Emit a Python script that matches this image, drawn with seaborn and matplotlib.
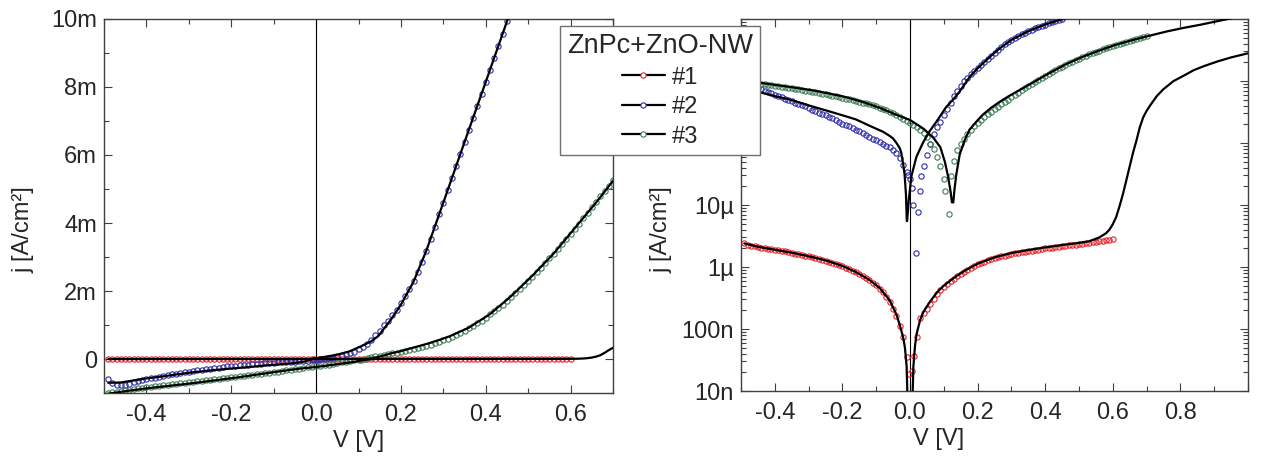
import numpy as np
import matplotlib
matplotlib.use('Agg')
import matplotlib.pyplot as plt
from matplotlib.lines import Line2D
from matplotlib.ticker import MultipleLocator, FuncFormatter, LogLocator
import seaborn as sns

# voltage sweep grid (V)
v_neg = [-0.49, -0.48, -0.47, -0.46, -0.45, -0.44, -0.43, -0.42, -0.41, -0.40,
         -0.39, -0.38, -0.37, -0.36, -0.35, -0.34, -0.33, -0.32, -0.31, -0.30,
         -0.29, -0.28, -0.27, -0.26, -0.25, -0.24, -0.23, -0.22, -0.21, -0.20,
         -0.19, -0.18, -0.17, -0.16, -0.15, -0.14, -0.13, -0.12, -0.11, -0.10,
         -0.09, -0.08, -0.07, -0.06, -0.05, -0.04, -0.03, -0.02, -0.01]
v_pos = [0.01, 0.02, 0.03, 0.04, 0.05, 0.06, 0.07, 0.08, 0.09, 0.10,
         0.11, 0.12, 0.13, 0.14, 0.15, 0.16, 0.17, 0.18, 0.19, 0.20,
         0.21, 0.22, 0.23, 0.24, 0.25, 0.26, 0.27, 0.28, 0.29, 0.30,
         0.31, 0.32, 0.33, 0.34, 0.35, 0.36, 0.37, 0.38, 0.39, 0.40,
         0.41, 0.42, 0.43, 0.44, 0.45, 0.46, 0.47, 0.48, 0.49, 0.50,
         0.51, 0.52, 0.53, 0.54, 0.55, 0.56, 0.57, 0.58, 0.59, 0.60,
         0.61, 0.62, 0.63, 0.64, 0.65, 0.66, 0.67, 0.68, 0.69, 0.70]

# sample #1 measured (uA/cm2)
v1 = v_neg + [-0.004, 0.007, 0.011] + v_pos[1:60]
j1_uA = [-2.40, -2.30, -2.22, -2.15, -2.09, -2.04, -2.00, -1.96, -1.93, -1.90,
         -1.86, -1.82, -1.78, -1.74, -1.70, -1.65, -1.61, -1.56, -1.52, -1.48,
         -1.44, -1.40, -1.36, -1.32, -1.27, -1.22, -1.17, -1.12, -1.07, -1.02,
         -0.97, -0.92, -0.87, -0.82, -0.77, -0.71, -0.66, -0.61, -0.56, -0.51,
         -0.45, -0.39, -0.33, -0.27, -0.21, -0.16, -0.113, -0.074, -0.035,
         -0.019, 0.021, 0.037,
         0.075, 0.15, 0.18, 0.21, 0.25, 0.31, 0.37, 0.42, 0.47,
         0.53, 0.59, 0.65, 0.71, 0.77, 0.83, 0.89, 0.96, 1.03, 1.10,
         1.16, 1.22, 1.28, 1.34, 1.39, 1.44, 1.49, 1.53, 1.58, 1.62,
         1.66, 1.70, 1.73, 1.77, 1.80, 1.84, 1.87, 1.91, 1.95, 1.99,
         2.02, 2.06, 2.09, 2.13, 2.16, 2.20, 2.23, 2.26, 2.30, 2.34,
         2.38, 2.42, 2.46, 2.50, 2.54, 2.59, 2.64, 2.69, 2.74, 2.80]

# sample #2 measured (mA/cm2)
v2 = v_neg + [-0.005, 0.0, 0.005, 0.01, 0.017, 0.024, 0.029, 0.034, 0.041, 0.05] + v_pos[5:45]
j2_mA = [-0.60, -0.70, -0.75, -0.77, -0.76, -0.73, -0.69, -0.66, -0.63, -0.60,
         -0.57, -0.545, -0.52, -0.495, -0.47, -0.45, -0.43, -0.41, -0.39, -0.37,
         -0.34, -0.325, -0.31, -0.295, -0.28, -0.265, -0.25, -0.235, -0.22, -0.205,
         -0.195, -0.185, -0.175, -0.165, -0.155, -0.145, -0.135, -0.127, -0.118, -0.11,
         -0.102, -0.096, -0.09, -0.085, -0.077, -0.069, -0.057, -0.045, -0.034,
         -0.030, -0.026, -0.019, -0.010, -0.0017, 0.0076, 0.017, 0.029, 0.042, 0.063,
         0.097, 0.14, 0.178, 0.22, 0.28,
         0.36, 0.45, 0.57, 0.70, 0.83, 1.00, 1.13, 1.28, 1.45, 1.64,
         1.84, 2.05, 2.28, 2.55, 2.86, 3.19, 3.54, 3.89, 4.25, 4.60,
         4.96, 5.31, 5.67, 6.02, 6.38, 6.73, 7.09, 7.44, 7.80, 8.15,
         8.51, 8.86, 9.22, 9.57, 9.93]

# sample #3 measured (mA/cm2)
v3 = v_neg + [0.0] + v_pos[:10] + [0.105, 0.115, 0.122, 0.13] + v_pos[13:70]
j3_mA = [-1.00, -0.98, -0.96, -0.94, -0.92, -0.90, -0.88, -0.865, -0.85, -0.835,
         -0.82, -0.805, -0.79, -0.775, -0.76, -0.745, -0.73, -0.715, -0.70, -0.685,
         -0.67, -0.655, -0.64, -0.625, -0.61, -0.595, -0.58, -0.565, -0.55, -0.535,
         -0.52, -0.505, -0.49, -0.48, -0.465, -0.45, -0.435, -0.42, -0.405, -0.39,
         -0.37, -0.35, -0.335, -0.32, -0.30, -0.285, -0.265, -0.245, -0.23, -0.21,
         -0.195, -0.18, -0.165, -0.145, -0.125, -0.098, -0.080, -0.059, -0.042, -0.026,
         -0.017, -0.0072, 0.029, 0.052,
         0.078, 0.097, 0.117, 0.14, 0.163, 0.185, 0.21,
         0.232, 0.26, 0.29, 0.32, 0.35, 0.385, 0.42, 0.46, 0.50, 0.55,
         0.60, 0.65, 0.71, 0.77, 0.83, 0.90, 0.97, 1.05, 1.13, 1.22,
         1.31, 1.40, 1.50, 1.60, 1.71, 1.82, 1.93, 2.05, 2.17, 2.29,
         2.42, 2.55, 2.68, 2.82, 2.96, 3.10, 3.24, 3.38, 3.53, 3.68,
         3.83, 3.98, 4.14, 4.30, 4.46, 4.62, 4.78, 4.94, 5.10, 5.26]

# fits
f1_v = [-0.49, -0.45, -0.40, -0.35, -0.30, -0.25, -0.20, -0.16, -0.12, -0.09,
        -0.06, -0.04, -0.03, -0.02, -0.015, -0.010, -0.006, 0.006, 0.010, 0.015,
        0.02, 0.03, 0.04, 0.06, 0.08, 0.10, 0.13, 0.16, 0.20, 0.25,
        0.30, 0.35, 0.40, 0.45, 0.50, 0.53, 0.56, 0.58, 0.59, 0.60,
        0.61, 0.62, 0.63, 0.64, 0.65, 0.66, 0.67, 0.68, 0.69, 0.70,
        0.71, 0.73, 0.75, 0.78, 0.81, 0.84, 0.87, 0.91, 0.95, 1.00]
f1_uA = [-2.40, -2.12, -1.90, -1.70, -1.49, -1.28, -1.04, -0.83, -0.62, -0.46,
         -0.29, -0.17, -0.115, -0.072, -0.050, -0.025, -0.004, 0.004, 0.025, 0.055,
         0.085, 0.14, 0.19, 0.28, 0.39, 0.50, 0.67, 0.86, 1.13, 1.43,
         1.68, 1.88, 2.07, 2.26, 2.45, 2.6, 3.0, 3.5, 4.0, 4.9,
         6.4, 9.6, 15, 25, 42, 70, 110, 180, 260, 330,
         400, 570, 740, 1000, 1220, 1500, 1740, 2070, 2400, 2800]

f2_v = [-0.49, -0.46, -0.43, -0.40, -0.36, -0.33, -0.29, -0.24, -0.20, -0.16,
        -0.12, -0.10, -0.08, -0.06, -0.05, -0.04, -0.03, -0.026, -0.02, -0.016,
        -0.012, -0.0095, -0.0085, -0.004, 0.004, 0.019, 0.038, 0.058, 0.078, 0.107,
        0.13, 0.147, 0.177, 0.20, 0.23, 0.26, 0.30, 0.35, 0.40, 0.45, 0.47]
f2_mA = [-0.70, -0.69, -0.63, -0.57, -0.51, -0.455, -0.39, -0.325, -0.28, -0.24,
         -0.19, -0.17, -0.152, -0.13, -0.118, -0.10, -0.082, -0.07, -0.045, -0.031,
         -0.015, -0.0055, 0.0055, 0.0115, 0.029, 0.060, 0.10, 0.155, 0.22, 0.38,
         0.52, 0.68, 1.17, 1.60, 2.28, 3.19, 4.60, 6.38, 8.15, 9.93, 10.64]

f3_v = [-0.49, -0.44, -0.39, -0.34, -0.29, -0.24, -0.19, -0.14, -0.09, -0.04,
        0.0, 0.04, 0.07, 0.09, 0.103, 0.112, 0.12, 0.124, 0.128, 0.132,
        0.137, 0.147, 0.162, 0.176, 0.196, 0.215, 0.24, 0.265, 0.29, 0.315,
        0.36, 0.41, 0.46, 0.51, 0.56, 0.61, 0.66, 0.71, 0.76, 0.81,
        0.86, 0.90, 0.95]
f3_mA = [-1.02, -0.93, -0.85, -0.78, -0.71, -0.63, -0.55, -0.46, -0.37, -0.285,
         -0.235, -0.17, -0.12, -0.085, -0.050, -0.030, -0.0165, -0.011, 0.011, 0.0186,
         0.031, 0.065, 0.112, 0.163, 0.22, 0.285, 0.37, 0.46, 0.56, 0.67,
         0.92, 1.32, 1.85, 2.45, 3.1, 3.85, 4.6, 5.4, 6.3, 7.2,
         8.1, 9.0, 10.25]

labels = ['#1', '#2', '#3']
colors = ['#e8202a', '#2e2ea8', '#3d7d55']

sns.set_theme(style='ticks')
plt.rcParams['font.family'] = ['Liberation Sans', 'DejaVu Sans']
plt.rcParams['axes.unicode_minus'] = False
plt.rcParams['axes.edgecolor'] = '#404040'
plt.rcParams['axes.linewidth'] = 1.0

measured = [(np.array(v1), np.array(j1_uA) * 1e-6),
            (np.array(v2), np.array(j2_mA) * 1e-3),
            (np.array(v3), np.array(j3_mA) * 1e-3)]
fits = [(np.array(f1_v), np.array(f1_uA) * 1e-6),
        (np.array(f2_v), np.array(f2_mA) * 1e-3),
        (np.array(f3_v), np.array(f3_mA) * 1e-3)]

fig = plt.figure(figsize=(12.66, 4.61), dpi=100)
W, H = 1266, 461
ax1 = fig.add_axes([104 / W, 1 - 393 / H, (613 - 104) / W, (393 - 19) / H])
ax2 = fig.add_axes([741 / W, 1 - 391 / H, (1248 - 741) / W, (391 - 19) / H])
ax2.set_yscale('log')

for ax, use_log in ((ax1, False), (ax2, True)):
    ax.axvline(0, color='black', lw=0.8, zorder=1)
    for (v, j), c in zip(measured, colors):
        y = np.abs(j) if use_log else j
        sns.lineplot(x=v, y=y, ax=ax, marker='o', linestyle='', ms=3.8,
                     mfc='none', mec=c, mew=0.8, errorbar=None, zorder=2)
    for v, j in fits:
        y = np.abs(j) if use_log else j
        sns.lineplot(x=v, y=y, ax=ax, color='black', lw=1.6,
                     errorbar=None, zorder=3)

# left panel: linear
ax1.set_xlim(-0.5, 0.7)
ax1.set_ylim(-1e-3, 10e-3)
ax1.xaxis.set_major_locator(MultipleLocator(0.2))
ax1.xaxis.set_minor_locator(MultipleLocator(0.1))
ax1.yaxis.set_major_locator(MultipleLocator(2e-3))
ax1.yaxis.set_minor_locator(MultipleLocator(1e-3))
ax1.yaxis.set_major_formatter(FuncFormatter(
    lambda v, p: '0' if abs(v) < 1e-9 else f'{v * 1e3:.0f}m'))

# right panel: log of |j|
ax2.set_xlim(-0.5, 1.0)
ax2.set_ylim(1e-8, 1e-2)
ax2.xaxis.set_major_locator(MultipleLocator(0.2))
ax2.xaxis.set_minor_locator(MultipleLocator(0.1))
ax2.yaxis.set_major_locator(LogLocator(base=10, numticks=20))
ax2.yaxis.set_minor_locator(LogLocator(base=10, subs=np.arange(2, 10), numticks=20))
log_names = {-8: '10n', -7: '100n', -6: '1µ', -5: '10µ'}
ax2.yaxis.set_major_formatter(FuncFormatter(
    lambda v, p: log_names.get(int(round(np.log10(v))), '')))


def vfmt(v, p):
    if v > 0.95:
        return ''
    return f'{round(v, 1) + 0.0:.1f}'


for ax in (ax1, ax2):
    ax.xaxis.set_major_formatter(FuncFormatter(vfmt))
    ax.tick_params(which='both', direction='in', top=True, right=True,
                   color='#404040', width=0.8, labelsize=17)
    ax.tick_params(which='major', length=6)
    ax.tick_params(which='minor', length=3.5)
    ax.tick_params(axis='x', pad=8)
    ax.tick_params(axis='y', pad=5)
    ax.set_xlabel('V [V]', fontsize=17)
    ax.set_ylabel('j [A/cm²]', fontsize=17)
    ax.grid(False)

ax1.xaxis.set_label_coords(0.5, -0.10)
ax2.xaxis.set_label_coords(0.39, -0.10)
ax1.yaxis.set_label_coords(-0.137, 0.436)
ax2.yaxis.set_label_coords(-0.136, 0.435)

handles = [Line2D([0], [0], color='black', lw=1.6, marker='o', ms=3.8,
                  mfc='white', mec=c, mew=0.8) for c in colors]
leg = fig.legend(handles=handles, labels=labels, title='ZnPc+ZnO-NW',
                 loc='upper left', bbox_to_anchor=(560 / W, 1 - 26 / H),
                 fontsize=17, title_fontsize=19.5, frameon=True, fancybox=False,
                 framealpha=1, edgecolor='#707070', borderpad=0.3,
                 labelspacing=0.32, handlelength=1.8, handletextpad=0.3,
                 borderaxespad=0)
leg.get_frame().set_linewidth(1.0)

fig.savefig('out.png', dpi=100)
